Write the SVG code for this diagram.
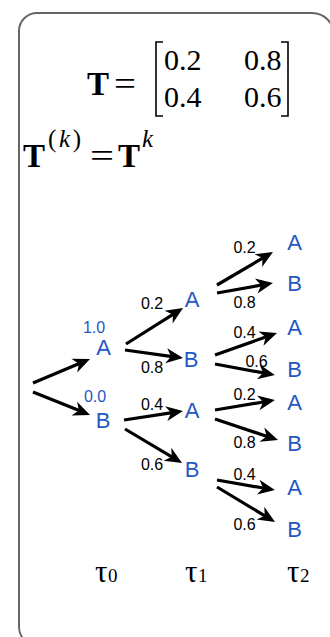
<svg xmlns="http://www.w3.org/2000/svg" width="330" height="637" viewBox="0 0 330 637">
<style>
.math{font-family:"Liberation Serif","DejaVu Serif",serif;font-size:33px;fill:#000}
.num{font-family:"Liberation Serif","DejaVu Serif",serif;font-size:30px;fill:#000}
.b{font-weight:bold}
.sup{font-family:"Liberation Serif","DejaVu Serif",serif;font-size:25px;fill:#000}
.node{font-family:"Liberation Sans",Arial,sans-serif;font-size:22px;fill:#1f57c3;text-anchor:middle}
.prob{font-family:"Liberation Sans",Arial,sans-serif;font-size:16px;fill:#1f57c3;text-anchor:middle}
.lbl{font-family:"Liberation Sans",Arial,sans-serif;font-size:16px;fill:#000;text-anchor:middle}
.tau{font-family:"Liberation Serif","DejaVu Serif",serif;font-size:31px;fill:#000}
.sub{font-family:"Liberation Serif","DejaVu Serif",serif;font-size:19px;fill:#000}
.edge{stroke:#000;stroke-width:3.2;fill:none;marker-end:url(#ah)}
</style>
<defs>
<marker id="ah" markerUnits="userSpaceOnUse" markerWidth="22" markerHeight="16" viewBox="0 0 22 16" refX="11" refY="8" orient="auto">
<path d="M20,8 L3,0.5 L8,8 L3,15.5 Z" fill="#000"/>
</marker>
</defs>
<path d="M340,645 H37 A18,18 0 0 1 19,627 V31 A18,18 0 0 1 37,13 H312 A22,22 0 0 1 334,35 V660" fill="#fff" stroke="#666" stroke-width="2"/>

<g id="formula-T">
<text class="math b" x="87" y="95">T</text>
<text class="math" x="114" y="95" textLength="22" lengthAdjust="spacingAndGlyphs">=</text>
<path d="M163,42 H156 V116 H163 M281,42 H288 V116 H281" fill="none" stroke="#000" stroke-width="1.6"/>
<text class="num" x="164" y="70">0.2</text>
<text class="num" x="244" y="70">0.8</text>
<text class="num" x="164" y="107">0.4</text>
<text class="num" x="244" y="107">0.6</text>
</g>
<g id="formula-Tk">
<text class="math b" x="23" y="167">T</text>
<text class="sup" x="48" y="147" textLength="33" lengthAdjust="spacing">(<tspan font-style="italic">k</tspan>)</text>
<text class="math" x="90" y="167" textLength="24" lengthAdjust="spacingAndGlyphs">=</text>
<text class="math b" x="118" y="167">T</text>
<text class="sup" x="142" y="147" font-style="italic">k</text>
</g>

<g id="connectors">
<line class="edge" x1="33" y1="383" x2="81.7" y2="362.5"/>
<line class="edge" x1="33" y1="392" x2="81.7" y2="411.6"/>
<line class="edge" x1="126" y1="344" x2="175.4" y2="312.8"/>
<line class="edge" x1="125" y1="350" x2="174.1" y2="356.8"/>
<line class="edge" x1="124" y1="420" x2="174.1" y2="412.4"/>
<line class="edge" x1="125" y1="429" x2="174.3" y2="458.4"/>
<line class="edge" x1="217" y1="285" x2="265.2" y2="256.6"/>
<line class="edge" x1="217" y1="293" x2="264.1" y2="284.6"/>
<line class="edge" x1="215" y1="355" x2="268.5" y2="336"/>
<line class="edge" x1="215" y1="364" x2="266.1" y2="373.4"/>
<line class="edge" x1="215" y1="410" x2="266.1" y2="401.5"/>
<line class="edge" x1="215" y1="419" x2="269.5" y2="437.2"/>
<line class="edge" x1="217" y1="480" x2="266.1" y2="488.5"/>
<line class="edge" x1="217" y1="487" x2="267.3" y2="517.3"/>
<text class="lbl" x="152" y="309">0.2</text>
<text class="lbl" x="152" y="373">0.8</text>
<text class="lbl" x="152" y="410">0.4</text>
<text class="lbl" x="152" y="470">0.6</text>
<text class="lbl" x="244.5" y="253">0.2</text>
<text class="lbl" x="244.5" y="308">0.8</text>
<text class="lbl" x="244.5" y="338">0.4</text>
<text class="lbl" x="256.5" y="367">0.6</text>
<text class="lbl" x="244.5" y="400">0.2</text>
<text class="lbl" x="244.5" y="448">0.8</text>
<text class="lbl" x="244.5" y="480">0.4</text>
<text class="lbl" x="244.5" y="530">0.6</text>
</g>

<g id="t0-A"><text class="prob" x="94" y="333">1.0</text><text class="node" x="103.5" y="355">A</text></g>
<g id="t0-B"><text class="prob" x="95" y="402">0.0</text><text class="node" x="103" y="428">B</text></g>
<g id="t1-A1"><text class="node" x="192" y="307">A</text></g>
<g id="t1-B1"><text class="node" x="191" y="367">B</text></g>
<g id="t1-A2"><text class="node" x="192" y="418">A</text></g>
<g id="t1-B2"><text class="node" x="192" y="477">B</text></g>
<g id="t2-A1"><text class="node" x="294.5" y="250">A</text></g>
<g id="t2-B1"><text class="node" x="294.5" y="291">B</text></g>
<g id="t2-A2"><text class="node" x="294.5" y="335">A</text></g>
<g id="t2-B2"><text class="node" x="294.5" y="377">B</text></g>
<g id="t2-A3"><text class="node" x="294.5" y="410">A</text></g>
<g id="t2-B3"><text class="node" x="294.5" y="451">B</text></g>
<g id="t2-A4"><text class="node" x="294.5" y="495">A</text></g>
<g id="t2-B4"><text class="node" x="294.5" y="537">B</text></g>

<g id="time-axis">
<text class="tau" x="95" y="582">τ</text><text class="sub" x="108" y="582">0</text>
<text class="tau" x="185" y="582">τ</text><text class="sub" x="198" y="582">1</text>
<text class="tau" x="287" y="582">τ</text><text class="sub" x="300" y="582">2</text>
</g>
</svg>
